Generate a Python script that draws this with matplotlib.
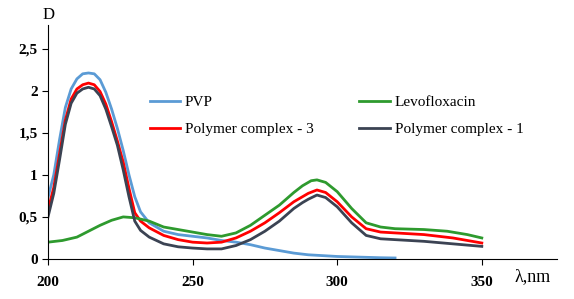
import matplotlib.pyplot as plt
import matplotlib.ticker as mticker

# wavelengths (nm) and absorbance values
wl_pvp = [200, 202, 204, 206, 208, 210, 212, 214, 216, 218, 220, 222, 224, 226, 228, 230, 232, 235,
          240, 245, 250, 255, 260, 265, 270, 275, 280, 285, 290, 295, 300, 305, 310, 315, 320]
pvp = [0.73, 1.0, 1.42, 1.8, 2.02, 2.14, 2.2, 2.21, 2.2, 2.13, 1.98, 1.78, 1.55, 1.29, 1.0, 0.74, 0.56, 0.43,
       0.33, 0.29, 0.27, 0.25, 0.22, 0.2, 0.17, 0.13, 0.1, 0.07, 0.05, 0.04, 0.03, 0.025, 0.02, 0.015, 0.012]

wl_levo = [200, 205, 210, 214, 218, 222, 226, 230, 235, 240, 245, 250, 255, 260, 265, 270, 275,
           280, 285, 288, 291, 293, 296, 300, 305, 310, 315, 320, 330, 338, 345, 350]
levo = [0.2, 0.22, 0.26, 0.33, 0.4, 0.46, 0.5, 0.49, 0.45, 0.38, 0.35, 0.32, 0.29, 0.27, 0.31, 0.4, 0.52,
        0.64, 0.79, 0.87, 0.93, 0.94, 0.91, 0.8, 0.6, 0.43, 0.38, 0.36, 0.35, 0.33, 0.29, 0.25]

wl_pc = [200, 202, 204, 206, 208, 210, 212, 214, 216, 218, 220, 222, 224, 226, 228, 230, 232, 235, 240,
         245, 250, 255, 260, 265, 270, 275, 280, 285, 288, 290, 293, 296, 300, 305, 310, 315, 320,
         330, 340, 350]
pc3 = [0.58, 0.85, 1.25, 1.65, 1.9, 2.02, 2.07, 2.09, 2.07, 1.99, 1.84, 1.63, 1.4, 1.15, 0.84, 0.55, 0.45, 0.37, 0.28,
       0.23, 0.2, 0.19, 0.2, 0.25, 0.33, 0.43, 0.55, 0.68, 0.74, 0.78, 0.82, 0.79, 0.68, 0.5, 0.36, 0.32, 0.31,
       0.29, 0.25, 0.19]
pc1 = [0.5, 0.78, 1.18, 1.6, 1.85, 1.97, 2.02, 2.04, 2.02, 1.94, 1.78, 1.57, 1.35, 1.06, 0.74, 0.45, 0.34, 0.26, 0.18,
       0.145, 0.13, 0.12, 0.12, 0.16, 0.23, 0.33, 0.45, 0.6, 0.67, 0.71, 0.76, 0.73, 0.62, 0.43, 0.28, 0.24, 0.23,
       0.21, 0.18, 0.15]

x_ticks = [200, 250, 300, 350]
y_ticks = [0, 0.5, 1, 1.5, 2, 2.5]

plt.rcParams['font.family'] = ['Liberation Serif', 'DejaVu Serif']

fig = plt.figure(figsize=(5.74, 2.99), dpi=100)
ax = fig.add_axes([48/574, 1-259/299, (557-48)/574, (259-25)/299])

ax.plot(wl_pvp, pvp, color='#5B9BD5', lw=2, label='PVP')
ax.plot(wl_pc, pc3, color='#FF0000', lw=2, label='Polymer complex - 3')
ax.plot(wl_levo, levo, color='#2E9A2E', lw=2, label='Levofloxacin')
ax.plot(wl_pc, pc1, color='#3B4353', lw=2, label='Polymer complex - 1')

ax.set_xlim(200, 376)
ax.set_ylim(0, 2.78)
ax.set_xticks(x_ticks)
ax.set_yticks(y_ticks)
ax.yaxis.set_major_formatter(mticker.FuncFormatter(lambda v, p: ('%g' % v).replace('.', ',')))
ax.spines['top'].set_visible(False)
ax.spines['right'].set_visible(False)
ax.tick_params(axis='both', direction='out', length=4, labelsize=11)
ax.tick_params(axis='x', pad=8)
for lab in ax.get_xticklabels() + ax.get_yticklabels():
    lab.set_fontweight('bold')

fig.text(49/574, 1-15/299, 'D', fontsize=12, ha='center', va='center')
fig.text(533/574, 1-277/299, 'λ,nm', fontsize=13, ha='center', va='center')

leg = ax.legend(loc='upper left', bbox_to_anchor=(136/574, 1-82/299), bbox_transform=fig.transFigure,
                ncol=2, frameon=False, fontsize=11, handlelength=2.0, handletextpad=0.3,
                columnspacing=3.0, labelspacing=0.85)

fig.savefig('out.png', dpi=100)
